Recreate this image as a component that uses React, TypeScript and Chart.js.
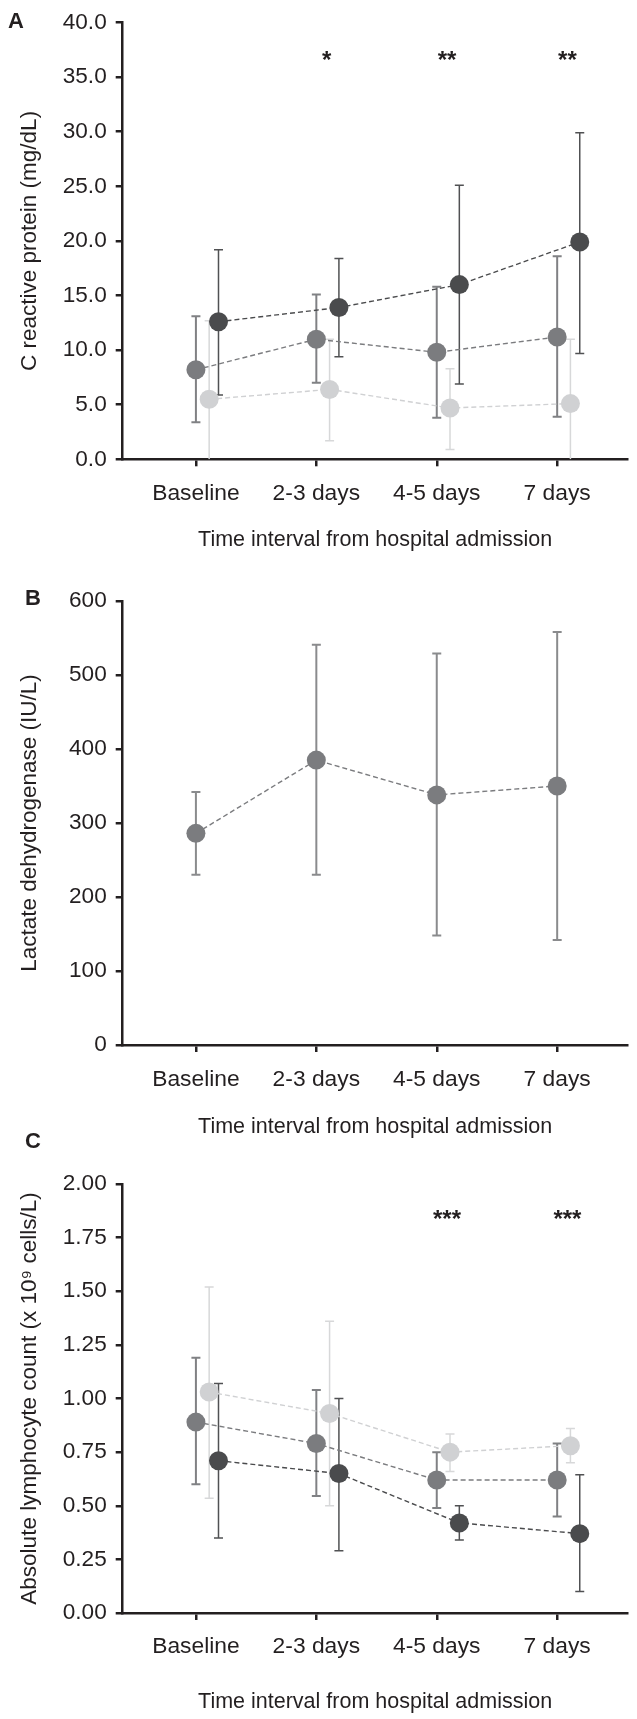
import React, { useEffect, useRef } from 'react';
import { Chart, registerables } from 'chart.js';
Chart.register(...registerables);

// ---------- data ----------
const categories = ['Baseline', '2-3 days', '4-5 days', '7 days'];

// Panel A: C reactive protein (mg/dL)
const crpMid = [8.2, 11.0, 9.8, 11.2];
const crpMidLo = [3.4, 7.0, 3.8, 3.9];
const crpMidHi = [13.1, 15.1, 15.8, 18.6];
const crpDark = [12.6, 13.9, 16.0, 19.9];
const crpDarkLo = [5.9, 9.4, 6.9, 9.7];
const crpDarkHi = [19.2, 18.4, 25.1, 29.9];
const crpLight = [5.5, 6.4, 4.7, 5.1];
const crpLightLo = [-1, 1.7, 0.9, -1];
const crpLightHi = [12.7, 11.0, 8.3, 11.0];
const crpStarIdx = [1, 2, 3];
const crpStars = ['*', '**', '**'];

// Panel B: Lactate dehydrogenase (IU/L)
const ldh = [286, 385, 338, 350];
const ldhLo = [230, 230, 148, 142];
const ldhHi = [342, 541, 529, 558];

// Panel C: Absolute lymphocyte count
const alcMid = [0.89, 0.79, 0.62, 0.62];
const alcMidLo = [0.6, 0.545, 0.49, 0.45];
const alcMidHi = [1.19, 1.04, 0.75, 0.79];
const alcLight = [1.03, 0.93, 0.75, 0.78];
const alcLightLo = [0.535, 0.5, 0.66, 0.7];
const alcLightHi = [1.52, 1.36, 0.835, 0.86];
const alcDark = [0.71, 0.65, 0.42, 0.37];
const alcDarkLo = [0.35, 0.29, 0.34, 0.1];
const alcDarkHi = [1.07, 1.0, 0.5, 0.645];
const alcStarIdx = [2, 3];
const alcStars = ['***', '***'];

// ---------- styles ----------
const FONT = "'Liberation Sans', Arial, Helvetica, sans-serif";
const INK = '#231f20';
const DARK = '#4a4b4d';
const MID = '#7b7c7f';
const LIGHT = '#d0d1d3';
const OFF_LIGHT = 0.11;
const OFF_DARK = 0.1875;

type Series = { color: string; bar: string; barW: number; off: number; vals: number[]; lo: number[]; hi: number[] };

function makeDataset(s: Series) {
  return {
    data: s.vals.map((v, i) => ({ x: i + s.off, y: v })),
    borderColor: s.color,
    borderWidth: 1.4,
    borderDash: [5, 3],
    pointRadius: 9.5,
    pointHoverRadius: 9.5,
    pointBackgroundColor: s.color,
    pointBorderWidth: 0,
    pointBorderColor: s.color,
    tension: 0,
    fill: false,
    errLo: s.lo,
    errHi: s.hi,
    errColor: s.bar,
    errWidth: s.barW,
    errOff: s.off,
  } as any;
}

const errorBarPlugin = {
  id: 'errorBars',
  beforeDatasetsDraw(chart: any) {
    const { ctx, chartArea, scales } = chart;
    const xs = scales.x, ys = scales.y;
    ctx.save();
    ctx.beginPath();
    ctx.rect(chartArea.left, chartArea.top - 20, chartArea.right - chartArea.left, chartArea.bottom - chartArea.top + 20);
    ctx.clip();
    const dsets = chart.data.datasets;
    for (let d = dsets.length - 1; d >= 0; d--) {
      const ds = dsets[d];
      ctx.strokeStyle = ds.errColor;
      ctx.lineWidth = ds.errWidth;
      ds.errLo.forEach((lo: number, i: number) => {
        const hi = ds.errHi[i];
        const x = xs.getPixelForValue(i + ds.errOff);
        const y1 = ys.getPixelForValue(lo);
        const y2 = ys.getPixelForValue(hi);
        const yb = Math.min(y1, chartArea.bottom);
        ctx.beginPath();
        ctx.moveTo(x, yb);
        ctx.lineTo(x, y2);
        ctx.stroke();
        const cw = 4.5;
        ctx.beginPath();
        ctx.moveTo(x - cw, y2);
        ctx.lineTo(x + cw, y2);
        if (y1 <= chartArea.bottom) {
          ctx.moveTo(x - cw, y1);
          ctx.lineTo(x + cw, y1);
        }
        ctx.stroke();
      });
    }
    ctx.restore();
  },
};

const annotatePlugin = {
  id: 'annotate',
  afterDraw(chart: any, _args: any, opts: any) {
    const { ctx, scales } = chart;
    ctx.save();
    if (opts.label) {
      ctx.font = `bold 22px ${FONT}`;
      ctx.fillStyle = INK;
      ctx.textAlign = 'center';
      ctx.textBaseline = 'middle';
      ctx.fillText(opts.label, opts.labelX, opts.labelY);
    }
    if (opts.starIdx) {
      ctx.font = `bold 24px ${FONT}`;
      ctx.fillStyle = INK;
      ctx.textAlign = 'center';
      ctx.textBaseline = 'middle';
      opts.starIdx.forEach((idx: number, k: number) => {
        const x = scales.x.getPixelForValue(idx + 0.085);
        const y = scales.y.getPixelForValue(opts.starLevel);
        ctx.fillText(opts.stars[k], x, y);
      });
    }
    ctx.restore();
  },
};

type PanelCfg = {
  top: number;
  height: number;
  padTop: number;
  xHeight: number;
  xTickPad: number;
  xTitlePad: number;
  yMin: number;
  yMax: number;
  yStep: number;
  yDec: number;
  yTitle: string;
  series: Series[];
  label: string;
  labelX: number;
  labelY: number;
  starIdx?: number[];
  stars?: string[];
  starLevel?: number;
};

function Panel({ cfg }: { cfg: PanelCfg }) {
  const ref = useRef<HTMLCanvasElement>(null);
  useEffect(() => {
    if (!ref.current) return;
    const chart = new Chart(ref.current, {
      type: 'line',
      data: { datasets: cfg.series.map(makeDataset) },
      plugins: [errorBarPlugin, annotatePlugin],
      options: {
        responsive: false,
        animation: false,
        events: [],
        layout: { padding: { top: cfg.padTop, left: 0, right: 0, bottom: 0 } },
        plugins: {
          legend: { display: false },
          tooltip: { enabled: false },
          annotate: {
            label: cfg.label,
            labelX: cfg.labelX,
            labelY: cfg.labelY,
            starIdx: cfg.starIdx,
            stars: cfg.stars,
            starLevel: cfg.starLevel,
          },
        } as any,
        scales: {
          x: {
            type: 'linear',
            min: -0.608,
            max: 3.584,
            afterBuildTicks: (s: any) => {
              s.ticks = categories.map((_, i) => ({ value: i }));
            },
            afterFit: (s: any) => {
              s.height = cfg.xHeight;
            },
            ticks: {
              autoSkip: false,
              maxRotation: 0,
              padding: cfg.xTickPad,
              color: INK,
              font: { family: FONT, size: 22.8 },
              callback: (v: any) => categories[v as number] ?? '',
            },
            grid: { drawOnChartArea: false, drawTicks: true, tickLength: 7, color: INK, lineWidth: 2.5 },
            border: { display: true, color: INK, width: 2.5 },
            title: {
              display: true,
              text: 'Time interval from hospital admission',
              color: INK,
              font: { family: FONT, size: 21.5 },
              padding: { top: 0, bottom: cfg.xTitlePad },
            },
          },
          y: {
            type: 'linear',
            min: cfg.yMin,
            max: cfg.yMax,
            afterFit: (s: any) => {
              s.width = 122.7;
            },
            ticks: {
              stepSize: cfg.yStep,
              padding: 9,
              color: INK,
              font: { family: FONT, size: 22.6 },
              callback: (v: any) => Number(v).toFixed(cfg.yDec),
            },
            grid: { drawOnChartArea: false, drawTicks: true, tickLength: 7, color: INK, lineWidth: 2.5 },
            border: { display: true, color: INK, width: 2.5 },
            title: {
              display: true,
              text: cfg.yTitle,
              color: INK,
              font: { family: FONT, size: 22.5 },
              padding: { top: 16.5, bottom: 0 },
            },
          },
        },
      } as any,
    });
    return () => chart.destroy();
  }, [cfg]);
  return (
    <canvas
      ref={ref}
      width={637}
      height={cfg.height}
      style={{ position: 'absolute', left: 0, top: cfg.top, display: 'block', width: 637, height: cfg.height }}
    />
  );
}

const panelA: PanelCfg = {
  top: 0,
  height: 570,
  padTop: 18,
  xHeight: 110.7,
  xTickPad: 13.5,
  xTitlePad: 17,
  yMin: 0,
  yMax: 40,
  yStep: 5,
  yDec: 1,
  yTitle: 'C reactive protein (mg/dL)',
  series: [
    { color: DARK, bar: '#505153', barW: 1.5, off: OFF_DARK, vals: crpDark, lo: crpDarkLo, hi: crpDarkHi },
    { color: MID, bar: '#808184', barW: 2, off: 0, vals: crpMid, lo: crpMidLo, hi: crpMidHi },
    { color: LIGHT, bar: '#d7d8d9', barW: 1.5, off: OFF_LIGHT, vals: crpLight, lo: crpLightLo, hi: crpLightHi },
  ],
  label: 'A',
  labelX: 16,
  labelY: 22,
  starIdx: crpStarIdx,
  stars: crpStars,
  starLevel: 36.4,
};

const panelB: PanelCfg = {
  top: 570,
  height: 570,
  padTop: 31,
  xHeight: 95,
  xTickPad: 13.8,
  xTitlePad: 0,
  yMin: 0,
  yMax: 600,
  yStep: 100,
  yDec: 0,
  yTitle: 'Lactate dehydrogenase (IU/L)',
  series: [{ color: MID, bar: '#8a8b8d', barW: 2, off: 0, vals: ldh, lo: ldhLo, hi: ldhHi }],
  label: 'B',
  labelX: 33,
  labelY: 29,
};

const panelC: PanelCfg = {
  top: 1120,
  height: 599,
  padTop: 64,
  xHeight: 106,
  xTickPad: 13.5,
  xTitlePad: 4.5,
  yMin: 0,
  yMax: 2,
  yStep: 0.25,
  yDec: 2,
  yTitle: 'Absolute lymphocyte count (x 10⁹ cells/L)',
  series: [
    { color: DARK, bar: '#505153', barW: 1.5, off: OFF_DARK, vals: alcDark, lo: alcDarkLo, hi: alcDarkHi },
    { color: MID, bar: '#808184', barW: 2, off: 0, vals: alcMid, lo: alcMidLo, hi: alcMidHi },
    { color: LIGHT, bar: '#d7d8d9', barW: 1.5, off: OFF_LIGHT, vals: alcLight, lo: alcLightLo, hi: alcLightHi },
  ],
  label: 'C',
  labelX: 33,
  labelY: 22,
  starIdx: alcStarIdx,
  stars: alcStars,
  starLevel: 1.83,
};

export default function App() {
  return (
    <div style={{ position: 'absolute', left: 0, top: 0, width: 637, height: 1719, background: '#fff' }}>
      <Panel cfg={panelA} />
      <Panel cfg={panelB} />
      <Panel cfg={panelC} />
    </div>
  );
}
